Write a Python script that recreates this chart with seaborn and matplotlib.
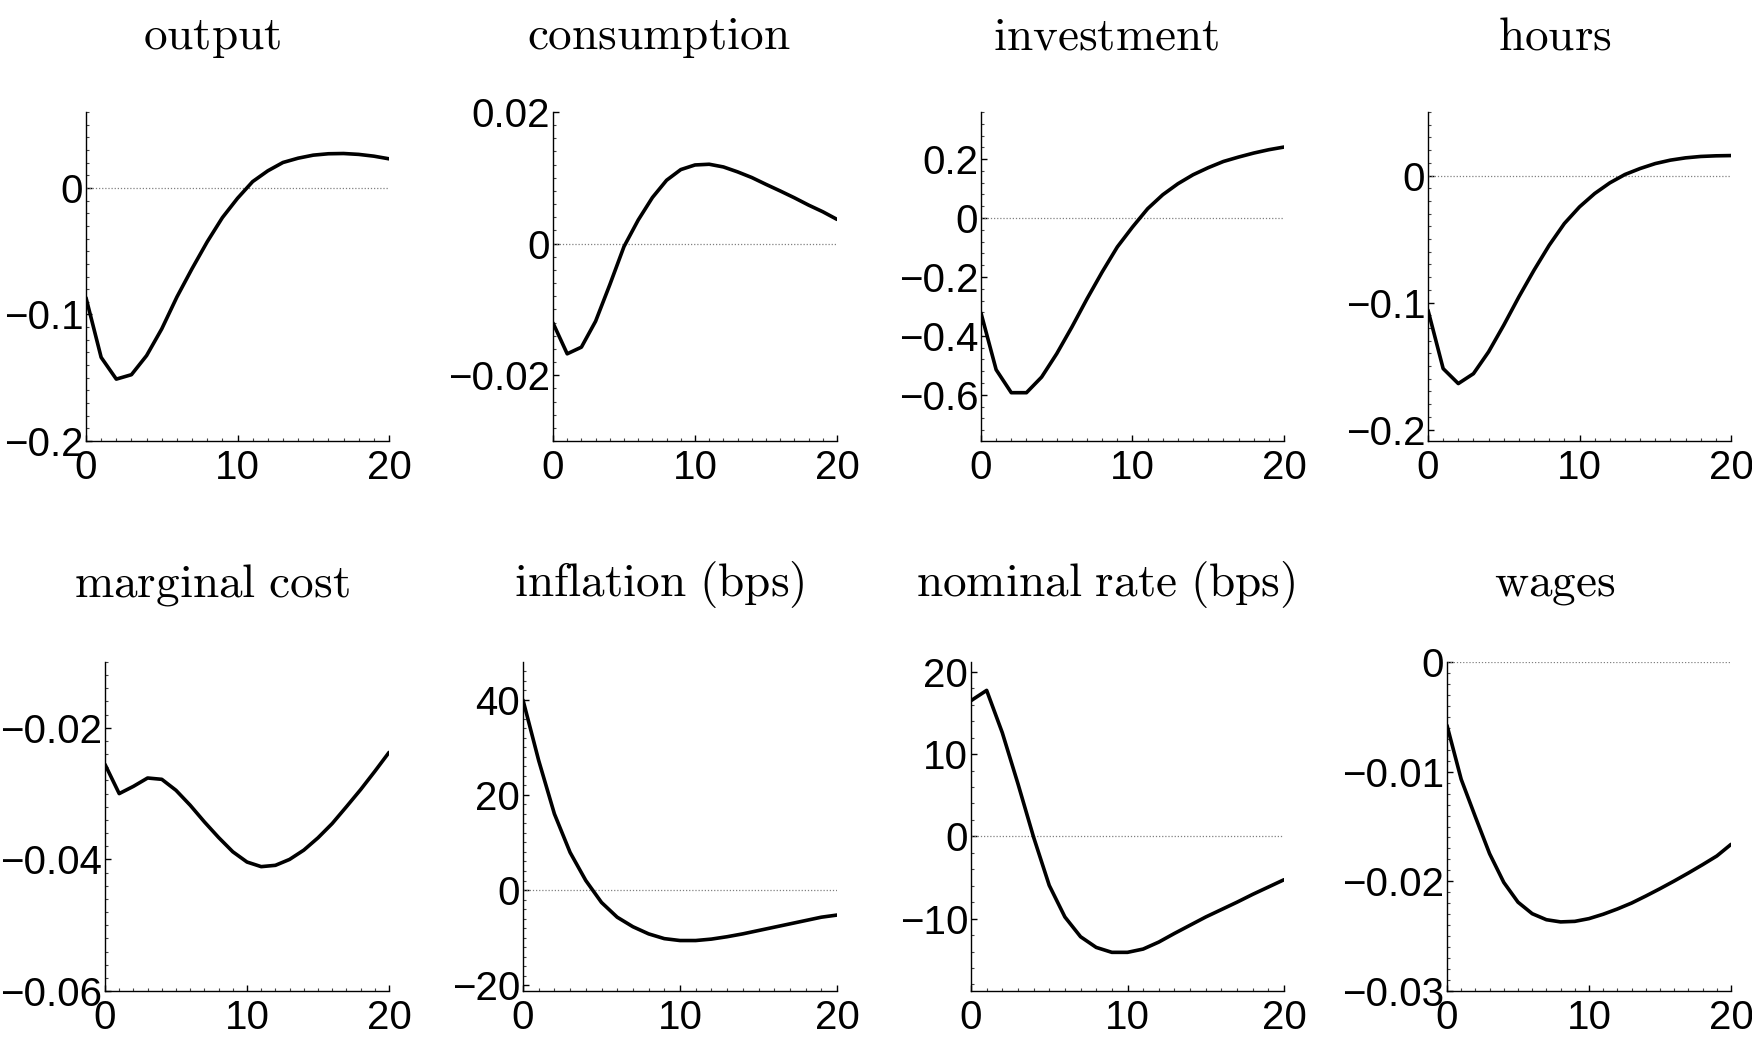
import numpy as np
import pandas as pd
import matplotlib
matplotlib.use("Agg")
import matplotlib.pyplot as plt
import seaborn as sns
from matplotlib.ticker import AutoMinorLocator, MultipleLocator, FixedLocator, FuncFormatter

# ---------------- data ----------------
horizon = list(range(21))

output = [-0.0868, -0.1339, -0.1511, -0.1476, -0.1325, -0.1114, -0.0862, -0.0638,
          -0.0426, -0.0235, -0.0082, 0.0050, 0.0135, 0.0201, 0.0235, 0.0259,
          0.0270, 0.0272, 0.0265, 0.0251, 0.0230]
consumption = [-0.01206, -0.01675, -0.01574, -0.0118, -0.00625, -0.00045, 0.00358,
               0.0070, 0.00963, 0.01125, 0.01195, 0.01206, 0.01165, 0.0109, 0.01004,
               0.0090, 0.0080, 0.00696, 0.00585, 0.00484, 0.00368]
investment = [-0.3225, -0.515, -0.593, -0.593, -0.540, -0.4605, -0.370, -0.274, -0.183,
              -0.098, -0.0306, 0.0317, 0.0792, 0.1165, 0.147, 0.171, 0.192, 0.207,
              0.2206, 0.232, 0.241]
hours = [-0.106, -0.152, -0.1638, -0.156, -0.1388, -0.1178, -0.0955, -0.0745, -0.0549,
         -0.0378, -0.0247, -0.0142, -0.0058, 0.0008, 0.0055, 0.0094, 0.0121, 0.0139,
         0.0150, 0.0155, 0.0157]
marginal_cost = [-0.02556, -0.0300, -0.0289, -0.02763, -0.02783, -0.0295, -0.03177,
                 -0.0343, -0.03667, -0.03884, -0.0404, -0.0411, -0.0409, -0.0400,
                 -0.03859, -0.03672, -0.03455, -0.0320, -0.0294, -0.02662, -0.02374]
inflation = [39.9, 27.2, 16.0, 7.9, 2.0, -2.6, -5.7, -7.7, -9.2, -10.2, -10.6, -10.6,
             -10.3, -9.8, -9.2, -8.5, -7.8, -7.1, -6.4, -5.7, -5.25]
nominal_rate = [16.5, 17.75, 12.6, 6.4, -0.1, -5.96, -9.8, -12.2, -13.5, -14.1, -14.1,
                -13.7, -12.85, -11.8, -10.8, -9.8, -8.9, -8.0, -7.05, -6.16, -5.27]
wages = [-0.00578, -0.0107, -0.01413, -0.01748, -0.0201, -0.0219, -0.02295, -0.0235,
         -0.0237, -0.02365, -0.0234, -0.0230, -0.02252, -0.02198, -0.02134, -0.02067,
         -0.01997, -0.01924, -0.01848, -0.01769, -0.01663]

titles = ["output", "consumption", "investment", "hours",
          "marginal cost", "inflation (bps)", "nominal rate (bps)", "wages"]
series = [output, consumption, investment, hours,
          marginal_cost, inflation, nominal_rate, wages]
y_limits = [(-0.2, 0.06), (-0.03, 0.02), (-0.757, 0.36), (-0.209, 0.05),
            (-0.06, -0.01), (-21.2, 47.9), (-18.8, 21.2), (-0.03, 0.0)]
y_ticks = [[-0.2, -0.1, 0], [-0.02, 0, 0.02], [-0.6, -0.4, -0.2, 0, 0.2], [-0.2, -0.1, 0],
           [-0.06, -0.04, -0.02], [-20, 0, 20, 40], [-10, 0, 10, 20], [-0.03, -0.02, -0.01, 0]]
x_ticks = [0, 10, 20]

# ---------------- layout (pixels in a 1752x1042 figure) ----------------
W, H = 1752, 1042
boxes = [(86, 112, 389, 441), (553, 112, 837, 441), (981, 112, 1284, 441), (1428, 112, 1731, 441),
         (105, 662, 389, 991), (523, 662, 837, 991), (971, 662, 1284, 991), (1447, 662, 1731, 991)]
minor_n = [10, 10, 5, 10, 10, 10, 5, 10]
title_x = [212, 659, 1106, 1555]
title_y = [38, 585]

sns.set_style("ticks")
plt.rcParams["font.family"] = ["Liberation Sans", "DejaVu Sans"]
plt.rcParams["mathtext.fontset"] = "cm"
plt.rcParams["axes.unicode_minus"] = True

fig = plt.figure(figsize=(W / 100, H / 100), dpi=100)
fig.patch.set_facecolor("white")


def fmt(v, pos):
    s = f"{v:g}"
    if s in ("-0", "0"):
        return "0"
    return s.replace("-", "\u2212")


for i, (vals, title) in enumerate(zip(series, titles)):
    x0, y0, x1, y1 = boxes[i]
    ax = fig.add_axes([x0 / W, 1 - y1 / H, (x1 - x0) / W, (y1 - y0) / H])
    df = pd.DataFrame({"h": horizon, "v": vals})
    ax.axhline(0, color="#808080", ls=(0, (1, 1.5)), lw=0.9, zorder=1)
    sns.lineplot(data=df, x="h", y="v", ax=ax, color="black", lw=2.6, zorder=3)
    ax.set_xlim(0, 20)
    ax.set_ylim(*y_limits[i])
    ax.xaxis.set_major_locator(FixedLocator(x_ticks))
    ax.xaxis.set_minor_locator(MultipleLocator(1))
    ax.yaxis.set_major_locator(FixedLocator(y_ticks[i]))
    ax.yaxis.set_minor_locator(AutoMinorLocator(minor_n[i]))
    ax.xaxis.set_major_formatter(FuncFormatter(fmt))
    ax.yaxis.set_major_formatter(FuncFormatter(fmt))
    ax.set_xlabel("")
    ax.set_ylabel("")
    for side in ("top", "right"):
        ax.spines[side].set_visible(False)
    for side in ("left", "bottom"):
        ax.spines[side].set_linewidth(1.0)
        ax.spines[side].set_color("black")
    ax.tick_params(axis="both", which="major", direction="in", length=4, width=1,
                   labelsize=29, colors="black")
    ax.tick_params(axis="both", which="minor", direction="in", length=2, width=0.8,
                   color="#444444")
    ax.tick_params(axis="y", which="major", pad=2)
    ax.tick_params(axis="x", which="major", pad=6)
    ax.set_facecolor("white")
    r, c = divmod(i, 4)
    tt = r"$\mathrm{" + title.replace(" ", r"\ ") + "}$"
    fig.text(title_x[c] / W, 1 - title_y[r] / H, tt, ha="center", va="center",
             fontsize=34, color="black")

fig.savefig("out.png", dpi=100, facecolor="white")
